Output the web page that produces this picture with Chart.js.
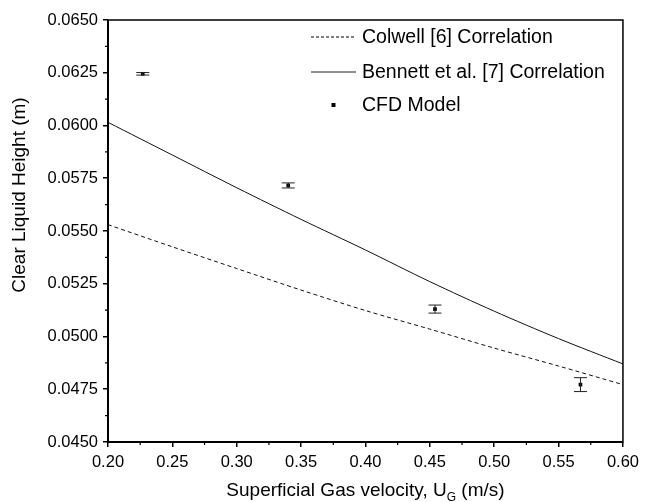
<!DOCTYPE html>
<html><head><meta charset="utf-8">
<script src="https://cdn.jsdelivr.net/npm/chart.js@4"></script>
<style>html,body{margin:0;padding:0;background:#fff}</style>
</head><body>
<canvas id="c" width="645" height="502"></canvas>
<script>
// ---- data ----
const velocities = [0.20, 0.25, 0.30, 0.35, 0.40, 0.45, 0.50, 0.55, 0.60];
const colwellHeight = [0.05530, 0.05425, 0.05322, 0.05220, 0.05123, 0.05035, 0.04945, 0.04860, 0.04772];
const bennettHeight = [0.06015, 0.05860, 0.05705, 0.05555, 0.05410, 0.05260, 0.05120, 0.04990, 0.04870];
const cfdVelocity = [0.227, 0.340, 0.454, 0.567];
const cfdHeight = [0.06245, 0.05716, 0.05130, 0.04772];
const cfdError = [0.00006, 0.00012, 0.00019, 0.00033];
const xTickValues = [0.20, 0.25, 0.30, 0.35, 0.40, 0.45, 0.50, 0.55, 0.60];
const yTickValues = [0.0450, 0.0475, 0.0500, 0.0525, 0.0550, 0.0575, 0.0600, 0.0625, 0.0650];
const seriesNames = ['Colwell [6] Correlation', 'Bennett et al. [7] Correlation', 'CFD Model'];
const xTitle = ['Superficial Gas velocity, U', 'G', ' (m/s)'];
const yTitle = 'Clear Liquid Height (m)';

const FONT = '"Liberation Sans", Arial, Helvetica, sans-serif';

const extras = {
  id: 'extras',
  afterDatasetsDraw(chart) {
    const ctx = chart.ctx, xs = chart.scales.x, ys = chart.scales.y;
    ctx.save();
    ctx.strokeStyle = '#222'; ctx.lineWidth = 1;
    cfdVelocity.forEach((v, i) => {
      const px = xs.getPixelForValue(v);
      const top = ys.getPixelForValue(cfdHeight[i] + cfdError[i]);
      const bot = ys.getPixelForValue(cfdHeight[i] - cfdError[i]);
      ctx.beginPath();
      ctx.moveTo(px, top); ctx.lineTo(px, bot);
      ctx.moveTo(px - 6.5, top); ctx.lineTo(px + 6.5, top);
      ctx.moveTo(px - 6.5, bot); ctx.lineTo(px + 6.5, bot);
      ctx.stroke();
    });
    ctx.restore();
  },
  afterDraw(chart) {
    const ctx = chart.ctx, a = chart.chartArea, xs = chart.scales.x, ys = chart.scales.y;
    ctx.save();
    ctx.strokeStyle = '#000';
    ctx.lineWidth = 1.5;
    ctx.strokeRect(a.left, a.top, a.right - a.left, a.bottom - a.top);
    ctx.lineWidth = 2;
    ctx.beginPath();
    ctx.moveTo(a.left, a.top); ctx.lineTo(a.left, a.bottom); ctx.lineTo(a.right, a.bottom);
    ctx.stroke();
    ctx.lineWidth = 1.2;
    ctx.beginPath();
    for (let i = 0; i < xTickValues.length - 1; i++) {
      const px = xs.getPixelForValue((xTickValues[i] + xTickValues[i + 1]) / 2);
      ctx.moveTo(px, a.bottom); ctx.lineTo(px, a.bottom + 3);
    }
    for (let i = 0; i < yTickValues.length - 1; i++) {
      const py = ys.getPixelForValue((yTickValues[i] + yTickValues[i + 1]) / 2);
      ctx.moveTo(a.left, py); ctx.lineTo(a.left - 3, py);
    }
    ctx.stroke();
    // legend
    const lx0 = 311, lx1 = 356, tx = 362;
    const rows = [37, 72, 105];
    ctx.fillStyle = '#000';
    ctx.font = '19.5px ' + FONT;
    ctx.textBaseline = 'middle';
    ctx.textAlign = 'left';
    ctx.lineWidth = 1;
    ctx.strokeStyle = '#000';
    ctx.setLineDash([3, 2]);
    ctx.beginPath(); ctx.moveTo(lx0, rows[0]); ctx.lineTo(lx1, rows[0]); ctx.stroke();
    ctx.setLineDash([]);
    ctx.strokeStyle = '#222';
    ctx.beginPath(); ctx.moveTo(lx0, rows[1]); ctx.lineTo(lx1, rows[1]); ctx.stroke();
    ctx.fillRect((lx0 + lx1) / 2 - 2, rows[2] - 2, 4, 4);
    seriesNames.forEach((n, i) => ctx.fillText(n, tx, rows[i] + 1));
    // x title with subscript
    ctx.textBaseline = 'alphabetic';
    const f1 = '19px ' + FONT, f2 = '12px ' + FONT;
    ctx.font = f1; const w1 = ctx.measureText(xTitle[0]).width, w3 = ctx.measureText(xTitle[2]).width;
    ctx.font = f2; const w2 = ctx.measureText(xTitle[1]).width;
    let sx = (a.left + a.right) / 2 - (w1 + w2 + w3) / 2;
    const base = 496;
    ctx.font = f1; ctx.fillText(xTitle[0], sx, base); sx += w1;
    ctx.font = f2; ctx.fillText(xTitle[1], sx, base + 5); sx += w2;
    ctx.font = f1; ctx.fillText(xTitle[2], sx, base);
    // y title
    ctx.translate(20, 195);
    ctx.rotate(-Math.PI / 2);
    ctx.textAlign = 'center'; ctx.textBaseline = 'middle';
    ctx.font = f1;
    ctx.fillText(yTitle, 0, 0);
    ctx.restore();
  }
};

const lineData = (ys) => velocities.map((v, i) => ({ x: v, y: ys[i] }));

new Chart(document.getElementById('c'), {
  type: 'line',
  data: {
    datasets: [
      { label: seriesNames[0], data: lineData(colwellHeight), borderColor: '#111', borderWidth: 1,
        borderDash: [4, 3], pointRadius: 0, tension: 0.3, fill: false },
      { label: seriesNames[1], data: lineData(bennettHeight), borderColor: '#111', borderWidth: 1,
        pointRadius: 0, tension: 0.3, fill: false },
      { label: seriesNames[2], type: 'scatter', data: cfdVelocity.map((v, i) => ({ x: v, y: cfdHeight[i] })),
        pointStyle: 'rect', pointRadius: 2.6, backgroundColor: '#000', borderColor: '#000', borderWidth: 0, showLine: false }
    ]
  },
  options: {
    responsive: false, animation: false, devicePixelRatio: 1,
    layout: { padding: { top: 20, right: 17, left: 0, bottom: 0 } },
    plugins: { legend: { display: false }, tooltip: { enabled: false } },
    scales: {
      x: {
        type: 'linear', min: 0.20, max: 0.60,
        afterBuildTicks: s => { s.ticks = xTickValues.map(v => ({ value: v })); },
        afterFit: s => { s.height = 60; },
        grid: { drawOnChartArea: false, drawTicks: true, tickLength: 5, color: '#000', lineWidth: 1.5 },
        border: { display: false },
        ticks: { color: '#000', font: { family: FONT, size: 16.5 }, padding: 6, maxRotation: 0,
          callback: v => Number(v).toFixed(2) }
      },
      y: {
        type: 'linear', min: 0.045, max: 0.065,
        afterBuildTicks: s => { s.ticks = yTickValues.map(v => ({ value: v })); },
        afterFit: s => { s.width = 108; },
        grid: { drawOnChartArea: false, drawTicks: true, tickLength: 5, color: '#000', lineWidth: 1.5 },
        border: { display: false },
        ticks: { color: '#000', font: { family: FONT, size: 16.5 }, padding: 5,
          callback: v => Number(v).toFixed(4) }
      }
    }
  },
  plugins: [extras]
});
</script>
</body></html>
